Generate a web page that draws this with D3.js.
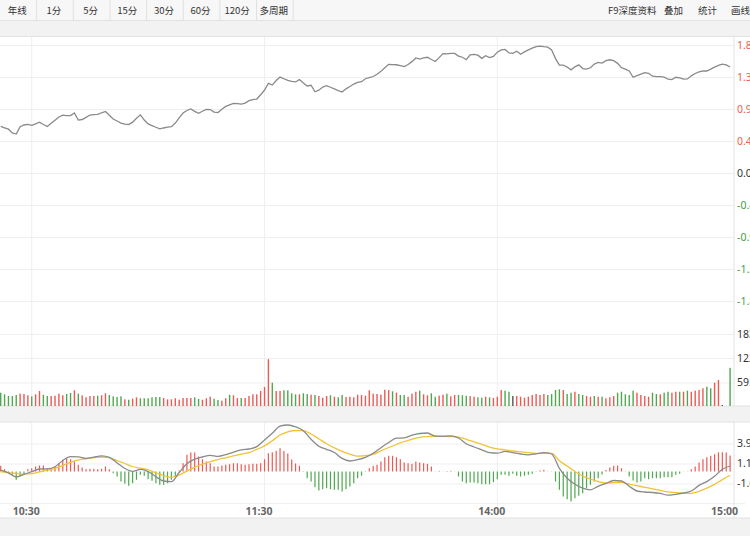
<!DOCTYPE html>
<html>
<head>
<meta charset="utf-8">
<script src="https://cdnjs.cloudflare.com/ajax/libs/d3/7.8.5/d3.min.js"></script>
<style>
  body { margin: 0; overflow: hidden; background: #fff; }
  svg { display: block; font-family: "Noto Sans CJK SC", "Noto Sans", sans-serif; }
</style>
</head>
<body>
<div id="mainDiv"></div>
<script>

// toolbar texts
var tabLabels = ["年线", "1分", "5分", "15分", "30分", "60分", "120分", "多周期"];
var toolLabels = ["F9深度资料", "叠加", "统计", "画线"];

// time axis (minute index of each label)
var timeLabels = ["10:30", "11:30", "14:00", "15:00"];
var timeLabelIdx = [8, 68, 128, 188];

// right axis ticks
var priceTicks = [1.84, 1.38, 0.92, 0.46, 0, -0.46, -0.92, -1.38, -1.84];
var volTicks = [59.8, 122, 183];
var macdTicks = [3.92, 1.12, -1.68];

// price change in %, one value per minute
var pricePct = [
 0.67, 0.65, 0.63, 0.575, 0.56, 0.665, 0.69, 0.70, 0.685, 0.707,
 0.73, 0.697, 0.668, 0.714, 0.76, 0.805, 0.832, 0.825, 0.826, 0.862,
 0.761, 0.769, 0.799, 0.833, 0.839, 0.843, 0.866, 0.884, 0.830, 0.776,
 0.747, 0.718, 0.704, 0.697, 0.731, 0.787, 0.836, 0.761, 0.705, 0.682,
 0.658, 0.634, 0.647, 0.658, 0.665, 0.718, 0.793, 0.862, 0.899, 0.922,
 0.886, 0.859, 0.888, 0.915, 0.912, 0.876, 0.868, 0.915, 0.957, 0.980,
 1.001, 0.996, 0.990, 1.004, 1.040, 1.056, 1.063, 1.124, 1.193, 1.289,
 1.264, 1.330, 1.379, 1.355, 1.332, 1.316, 1.309, 1.343, 1.293, 1.251,
 1.261, 1.168, 1.190, 1.236, 1.256, 1.233, 1.208, 1.184, 1.164, 1.210,
 1.244, 1.279, 1.302, 1.313, 1.355, 1.372, 1.387, 1.420, 1.461, 1.513,
 1.562, 1.559, 1.556, 1.542, 1.529, 1.560, 1.601, 1.654, 1.638, 1.655,
 1.664, 1.631, 1.603, 1.659, 1.717, 1.713, 1.721, 1.720, 1.681, 1.664,
 1.629, 1.697, 1.705, 1.693, 1.648, 1.685, 1.659, 1.677, 1.737, 1.770,
 1.776, 1.726, 1.720, 1.750, 1.707, 1.741, 1.770, 1.796, 1.818, 1.825,
 1.816, 1.809, 1.769, 1.644, 1.552, 1.552, 1.523, 1.483, 1.526, 1.555,
 1.501, 1.494, 1.513, 1.565, 1.589, 1.579, 1.614, 1.628, 1.614, 1.576,
 1.514, 1.494, 1.466, 1.376, 1.401, 1.422, 1.444, 1.434, 1.392, 1.384,
 1.384, 1.378, 1.348, 1.342, 1.376, 1.368, 1.349, 1.352, 1.397, 1.430,
 1.454, 1.468, 1.466, 1.494, 1.522, 1.546, 1.566, 1.555, 1.524
];

// volume per minute
var volume = [
 33.8, 29.7, 25.4, 25.4, 28, 31.3, 30.5, 27.2, 24.6, 29.7,
 38.1, 28.7, 25.4, 25.4, 26.2, 31.3, 27.2, 30.5, 33, 39.9,
 31.3, 27.2, 22.1, 25.4, 25.4, 26.2, 27.2, 32.3, 28, 24.6,
 22.9, 24.6, 17, 16, 18.5, 22.1, 19.6, 19.6, 19.6, 22.1,
 22.9, 22.9, 20.3, 17, 17, 19.6, 16, 20.3, 20.3, 20.3,
 22.1, 17.8, 16, 19.6, 23.6, 18.5, 15.2, 13.5, 19.6, 28.7,
 27.2, 20.3, 20.3, 20.3, 25.4, 29.7, 29.7, 38.1, 48.3, 119,
 59.2, 38.1, 38.1, 39.9, 39.9, 32.3, 29.7, 29.7, 32.3, 30.5,
 28.7, 28, 25.4, 21.1, 25.4, 27.2, 23.6, 22.1, 28, 22.9,
 23.6, 22.1, 28.7, 28, 26.2, 39.9, 31.3, 30.5, 28.7, 41.4,
 40.6, 37.3, 33.8, 28, 28, 23.6, 31.3, 36.3, 38.9, 29.7,
 27.2, 32.3, 23.6, 26.2, 28.7, 31.3, 24.6, 28, 28, 27.2,
 26.2, 25.4, 23.6, 22.1, 21.1, 23.6, 22.1, 20.3, 23.6, 40.6,
 38.9, 36.3, 25.4, 25.4, 23.6, 21.1, 23.6, 28, 30.5, 28,
 30.5, 28, 30.5, 40.6, 42.4, 40.6, 30.5, 33.8, 36.3, 30.5,
 28, 25.4, 23.6, 25.4, 23.6, 23.6, 19.6, 22.1, 25.4, 33.8,
 36.3, 29.7, 28, 38.9, 33.8, 28, 25.4, 23.6, 33.8, 30.5,
 29.7, 33.8, 36.3, 33.8, 36.3, 36.3, 36.3, 38.9, 36.3, 38.9,
 40.6, 45, 49, 45, 59.2, 66, 2.5, 0, 97
];

// r = up (red), g = down (green), n = flat
var volDir =
 "gggggrrrgr" + "rggrrrrggr" + "grrrrgrrgg" + "ggrgrrgggg" + "ggrrrrrrrr" +
 "ggrrrggrrg" + "rrgrrrrrrr" + "grrggggrgg" + "rgrrrgrggr" + "rrrrrrrrrr" +
 "rgrggrrrgr" + "rggrrgrrgg" + "grrggrgrrr" + "ggnrrrrrrr" + "rggggrggrg" +
 "grrgrgrrrg" + "ggggrrrrgg" + "rggrrgrgrr" + "rrggrrnng";

// MACD histogram per minute
var macdHist = [
 0.80, 0.32, -0.24, -0.46, -1.16, -0.70, -0.46, 0.32, 0.46, 0.70,
 0.84, 0.84, 0.46, 0.46, 0.70, 1.16, 1.64, 1.86, 1.72, 1.40,
 0.94, 0.56, 0.32, 0.38, 0.38, 0.32, 0.38, 0.70, 0.32, -0.24,
 -0.70, -1.40, -1.72, -2.00, -1.64, -1.16, -0.46, -0.60, -1.08, -1.30,
 -1.64, -1.86, -1.86, -1.64, -1.16, -0.70, 0.14, 1.16, 2.34, 2.66,
 2.66, 2.10, 1.72, 1.40, 1.16, 0.70, 0.70, 0.84, 0.94, 1.02,
 1.16, 1.16, 1.02, 0.94, 1.02, 1.08, 1.08, 1.16, 1.72, 2.56,
 2.70, 2.90, 3.26, 2.87, 2.52, 1.68, 1.12, 0.80, 0.05, -0.94,
 -1.40, -2.20, -2.66, -2.48, -2.34, -2.48, -2.56, -2.56, -2.80, -2.48,
 -2.10, -1.64, -0.94, -0.60, -0.05, 0.46, 0.80, 0.94, 1.40, 2.00,
 2.20, 2.20, 2.00, 1.72, 1.26, 1.16, 1.08, 1.40, 1.26, 1.16,
 1.08, 0.70, 0.03, 0.10, 0.02, 0.07, 0.10, 0.02, -0.70, -1.40,
 -1.64, -1.54, -1.54, -1.64, -1.78, -1.78, -1.78, -1.50, -1.08, -0.46,
 -0.46, -0.60, -0.32, -0.60, -0.70, -0.60, -0.46, -0.32, -0.03, 0.14,
 0.24, 0.03, -0.03, -1.40, -2.56, -3.50, -3.88, -4.20, -3.74, -3.40,
 -3.04, -2.34, -1.86, -1.40, -0.94, -0.42, 0.21, 0.56, 0.80, 0.84,
 0.46, 0.03, -0.70, -1.26, -1.54, -1.40, -0.94, -1.08, -0.94, -0.94,
 -0.94, -0.80, -0.80, -0.80, -0.46, -0.32, -0.03, 0.03, 0.32, 0.70,
 1.26, 1.72, 2.00, 2.20, 2.42, 2.70, 2.70, 2.66, 2.24
];

// DIF and DEA, read every 2 minutes
var difLine = [
 0.20, -0.20, -0.77, -0.39, -0.03, 0.35, 0.38, 0.67, 1.55, 2.09,
 2.06, 1.82, 2.00, 2.20, 1.99, 1.20, 0.42, 0.03, 0.29, -0.01,
 -0.73, -1.33, -1.43, -0.14, 1.08, 1.72, 2.03, 2.27, 2.11, 2.35,
 2.70, 3.03, 3.15, 3.49, 4.41, 5.35, 6.34, 6.51, 6.26, 5.71,
 4.52, 3.54, 3.11, 2.66, 1.83, 1.47, 1.65, 1.97, 2.55, 3.33,
 4.06, 4.66, 4.71, 5.08, 5.32, 5.39, 4.94, 4.92, 5.00, 4.69,
 3.89, 3.43, 3.03, 2.63, 2.56, 2.83, 2.65, 2.45, 2.34, 2.48,
 2.63, 2.45, 0.43, -0.94, -1.78, -2.32, -2.56, -2.07, -1.67, -1.26,
 -1.33, -2.06, -2.73, -2.87, -2.94, -3.07, -3.32, -3.19, -3.01, -2.73,
 -1.95, -1.41, -0.67, 0.31, 0.77
];
var deaLine = [
 -0.04, -0.15, -0.28, -0.35, -0.29, -0.04, 0.18, 0.43, 0.85, 1.29,
 1.62, 1.81, 1.93, 2.03, 1.93, 1.53, 1.12, 0.70, 0.46, 0.24,
 -0.20, -0.57, -0.81, -0.52, 0.08, 0.62, 1.02, 1.37, 1.67, 1.92,
 2.18, 2.42, 2.65, 3.10, 3.59, 4.30, 5.11, 5.55, 5.74, 5.71,
 5.25, 4.59, 3.88, 3.31, 2.83, 2.44, 2.14, 2.21, 2.41, 2.89,
 3.36, 3.78, 4.20, 4.50, 4.78, 4.89, 4.96, 4.94, 4.90, 4.80,
 4.51, 4.15, 3.80, 3.42, 3.17, 3.03, 2.87, 2.75, 2.63, 2.55,
 2.55, 2.53, 1.51, 0.76, 0.01, -0.63, -1.05, -1.40, -1.61, -1.55,
 -1.53, -1.78, -1.99, -2.21, -2.42, -2.65, -2.86, -2.96, -3.05, -3.05,
 -2.77, -2.34, -1.81, -1.13, -0.53
];

var upColor = "#ec5a54";
var downColor = "#4fa84f";
var flatColor = "#555";
var gridColor = "#efefef";
var borderColor = "#e2e2e2";

var plotRight = 734;

var svg = d3.select("#mainDiv").append("svg")
    .attr("width", 750).attr("height", 536);

// ---- toolbar and bands ----
svg.append("rect").attr("x", 0).attr("y", 0).attr("width", 750).attr("height", 20.5).attr("fill", "#f7f7f7");
svg.append("rect").attr("x", 0).attr("y", 21).attr("width", 750).attr("height", 15.5).attr("fill", "#f2f2f2");
svg.append("rect").attr("x", 0).attr("y", 406).attr("width", 750).attr("height", 16).attr("fill", "#f2f2f2");
svg.append("rect").attr("x", 0).attr("y", 518).attr("width", 750).attr("height", 18).attr("fill", "#f2f2f2");

[20.5, 36.5, 406, 422, 518].forEach(function (y) {
    svg.append("line").attr("x1", 0).attr("x2", 750).attr("y1", y).attr("y2", y)
        .attr("stroke", borderColor).attr("stroke-width", 1);
});

var tabWidth = 36.65;
tabLabels.forEach(function (t, i) {
    svg.append("text").attr("x", tabWidth * i + tabWidth / 2 - 1).attr("y", 14.2)
        .attr("text-anchor", "middle").attr("font-size", "9.5px").attr("fill", "#333").text(t);
    svg.append("line").attr("x1", tabWidth * (i + 1)).attr("x2", tabWidth * (i + 1))
        .attr("y1", 0).attr("y2", 20.5).attr("stroke", "#e0e0e0");
});

var toolX = [608, 664, 698, 731];
toolLabels.forEach(function (t, i) {
    svg.append("text").attr("x", toolX[i]).attr("y", 14.2)
        .attr("font-size", "9.5px").attr("fill", "#333").text(t);
});

// ---- scales ----
var xScale = d3.scaleLinear().domain([0, 188]).range([0.7, 730.1]);
var yPrice = d3.scaleLinear().domain([-1.84, 1.84]).range([301, 45]);
var yVol = d3.scaleLinear().domain([0, 183]).range([406, 334]);
var yMacd = d3.scaleLinear().domain([-4.48, 6.72]).range([503.5, 423.5]);

// plain hyphen instead of the unicode minus d3.format gives
function fmt(spec) {
    var f = d3.format(spec);
    return function (d) { return f(d).replace("\u2212", "-"); };
}

function styleAxis(g, colorFn) {
    g.select(".domain").remove();
    g.selectAll(".tick line").attr("stroke", gridColor).attr("stroke-width", 1);
    g.selectAll(".tick text").attr("font-size", "10.5px")
        .attr("font-family", "'Noto Sans', sans-serif")
        .attr("fill", colorFn || "#333");
}

// price axis + grid
var pctFmt = fmt(".2f");
var priceAxis = svg.append("g").attr("transform", "translate(" + plotRight + ",0)")
    .call(d3.axisRight(yPrice).tickValues(priceTicks).tickSizeInner(-plotRight)
        .tickSizeOuter(0).tickPadding(3)
        .tickFormat(function (d) { return pctFmt(d) + "%"; }));
styleAxis(priceAxis, function (d) { return d > 0 ? "#f0604e" : (d < 0 ? "#45a045" : "#333"); });

// volume axis + grid
var volAxis = svg.append("g").attr("transform", "translate(" + plotRight + ",0)")
    .call(d3.axisRight(yVol).tickValues(volTicks).tickSizeInner(-plotRight)
        .tickSizeOuter(0).tickPadding(3).tickFormat(fmt(".1f")));
styleAxis(volAxis);

// macd axis + grid
var macdAxis = svg.append("g").attr("transform", "translate(" + plotRight + ",0)")
    .call(d3.axisRight(yMacd).tickValues(macdTicks).tickSizeInner(-plotRight)
        .tickSizeOuter(0).tickPadding(3).tickFormat(fmt(".2f")));
styleAxis(macdAxis);

svg.append("line").attr("x1", 0).attr("x2", 745).attr("y1", yMacd(-4.48)).attr("y2", yMacd(-4.48))
    .attr("stroke", gridColor);

// vertical grid lines
timeLabelIdx.slice(0, 3).forEach(function (idx) {
    var x = xScale(idx);
    svg.append("line").attr("x1", x).attr("x2", x).attr("y1", 37).attr("y2", 406).attr("stroke", gridColor);
    svg.append("line").attr("x1", x).attr("x2", x).attr("y1", 422).attr("y2", 507).attr("stroke", gridColor);
});
svg.append("line").attr("x1", plotRight).attr("x2", plotRight).attr("y1", 37).attr("y2", 406).attr("stroke", borderColor);
svg.append("line").attr("x1", plotRight).attr("x2", plotRight).attr("y1", 422).attr("y2", 518).attr("stroke", borderColor);

// time axis
var timeAxis = svg.append("g").attr("transform", "translate(-6,504)")
    .call(d3.axisBottom(xScale).tickValues(timeLabelIdx).tickSize(0).tickPadding(4)
        .tickFormat(function (d, i) { return timeLabels[i]; }));
timeAxis.select(".domain").remove();
timeAxis.selectAll(".tick text").attr("font-size", "10.5px").attr("font-weight", "bold")
    .attr("font-family", "'Noto Sans', sans-serif").attr("fill", "#666");

// ---- volume bars ----
function dirColor(i) {
    var c = volDir.charAt(i);
    return c === "r" ? upColor : (c === "g" ? downColor : flatColor);
}

svg.append("g").selectAll("rect").data(volume).enter().append("rect")
    .attr("x", function (d, i) { return xScale(i) - 0.7; })
    .attr("width", 1.4)
    .attr("y", function (d) { return yVol(d); })
    .attr("height", function (d) { return yVol(0) - yVol(d); })
    .attr("fill", function (d, i) { return dirColor(i); });

// ---- price line ----
var priceLine = d3.line()
    .x(function (d, i) { return xScale(i); })
    .y(function (d) { return yPrice(d); });

svg.append("path").datum(pricePct).attr("d", priceLine)
    .attr("fill", "none").attr("stroke", "#8a8a8a").attr("stroke-width", 1.3);

// ---- MACD ----
svg.append("g").selectAll("rect").data(macdHist).enter().append("rect")
    .attr("x", function (d, i) { return xScale(i) - 0.6; })
    .attr("width", 1.2)
    .attr("y", function (d) { return Math.min(yMacd(d), yMacd(0)); })
    .attr("height", function (d) { return Math.abs(yMacd(d) - yMacd(0)); })
    .attr("fill", function (d) { return d >= 0 ? upColor : downColor; });

var macdLine = d3.line()
    .x(function (d, i) { return xScale(i * 2); })
    .y(function (d) { return yMacd(d); })
    .curve(d3.curveMonotoneX);

svg.append("path").datum(deaLine).attr("d", macdLine)
    .attr("fill", "none").attr("stroke", "#f2c335").attr("stroke-width", 1.3);
svg.append("path").datum(difLine).attr("d", macdLine)
    .attr("fill", "none").attr("stroke", "#8a8a8a").attr("stroke-width", 1.3);

</script>
</body>
</html>
